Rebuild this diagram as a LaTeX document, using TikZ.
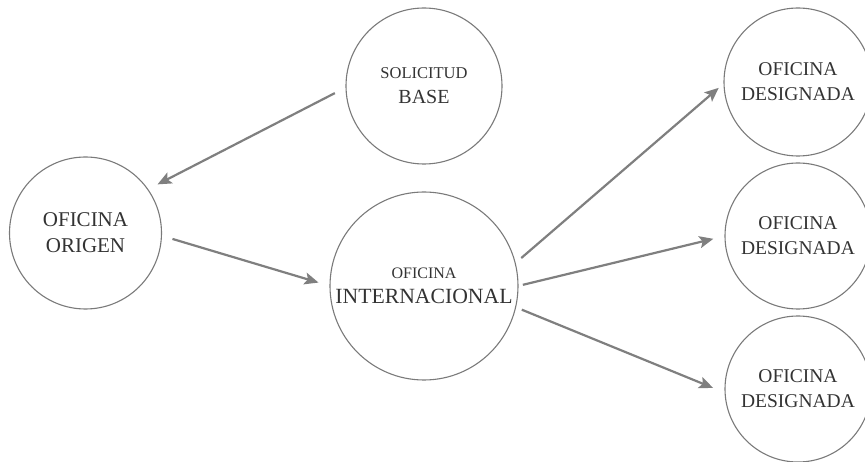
\documentclass[tikz,border=0pt]{standalone}
\usepackage{fontspec}
\setmainfont{Liberation Serif}
\usetikzlibrary{arrows.meta}
\definecolor{circgray}{HTML}{7A7A7A}
\definecolor{arrgray}{HTML}{7F7F7F}
\definecolor{txtgray}{HTML}{333333}
\tikzset{
  office/.style={circle,draw=circgray,line width=1.1pt,inner sep=0pt,outer sep=0pt,
    align=center,text=txtgray,font=\fontsize{19.5pt}{25pt}\selectfont},
  flow/.style={draw=arrgray,line width=2.2pt,-{Stealth[length=14pt,width=12pt,inset=3pt]}},
}
\begin{document}
\begin{tikzpicture}[x=1pt,y=-1pt]
\useasboundingbox (0,0) rectangle (865,462);
\node[office,minimum size=156pt] (sol) at (424,86)
  {{\fontsize{16.5pt}{23pt}\selectfont SOLICITUD}\\{\fontsize{20pt}{23pt}\selectfont BASE}};
\node[office,minimum size=152pt,font=\fontsize{21pt}{26pt}\selectfont] (orig) at (85.5,233)
  {OFICINA\\ORIGEN};
\node[office,minimum size=188pt] (int) at (424,286)
  {{\fontsize{16pt}{23pt}\selectfont OFICINA}\\{\fontsize{21.7pt}{23pt}\selectfont INTERNACIONAL}};
\node[office,minimum size=148pt] (d1) at (798,82) {OFICINA\\DESIGNADA};
\node[office,minimum size=146pt] (d2) at (798,236) {OFICINA\\DESIGNADA};
\node[office,minimum size=146pt] (d3) at (798,389) {OFICINA\\DESIGNADA};
\draw[flow,shorten <=12.5pt,shorten >=11pt] (sol.181) -- (orig.35.5);
\draw[flow,shorten <=11.5pt,shorten >=12pt] (orig.-2.6) -- (int.180);
\draw[flow,shorten <=8pt,shorten >=7pt] (int.14.2) -- (d1.181.4);
\draw[flow,shorten <=5pt,shorten >=12pt] (int.0) -- (d2.180.7);
\draw[flow,shorten <=6.7pt,shorten >=13pt] (int.-13.2) -- (d3.183.3);
\end{tikzpicture}
\end{document}
